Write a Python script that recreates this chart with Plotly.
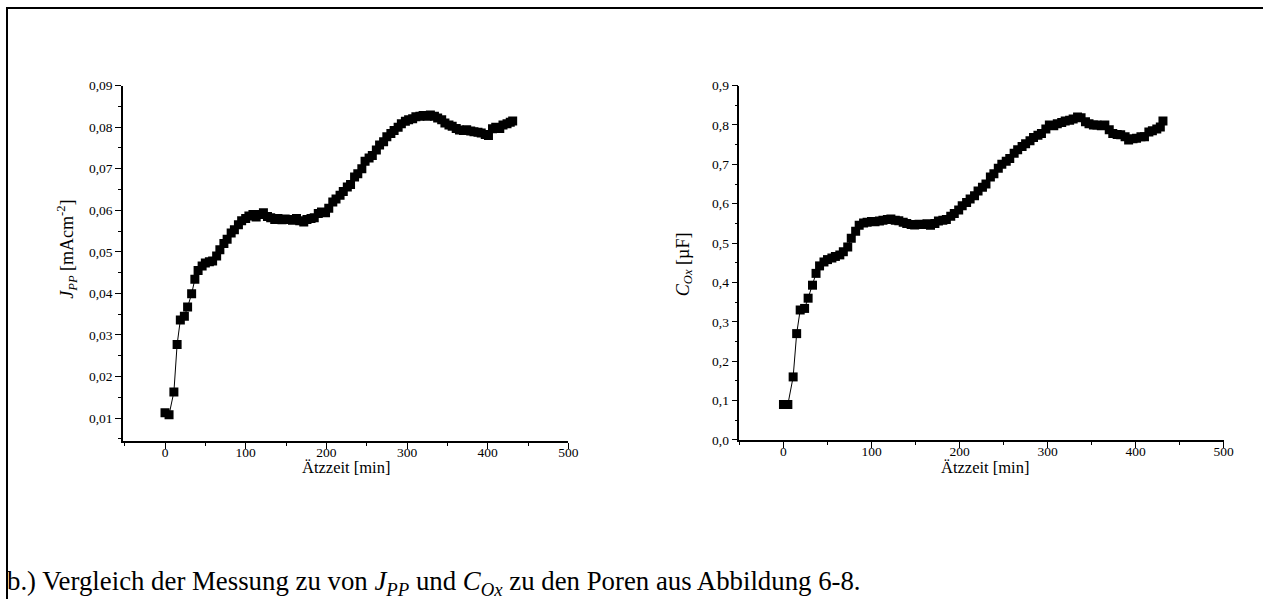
import plotly.graph_objects as go

# Etching time in minutes (shared by both measurements)
etch_time = [0, 5, 11, 15, 19, 24, 28, 33, 37, 41, 46, 50, 55, 59, 64, 68, 73, 77, 82, 86,
             91, 95, 100, 104, 109, 113, 118, 122, 127, 131, 136, 140, 145, 149, 154, 158,
             163, 167, 172, 176, 181, 185, 190, 194, 199, 203, 208, 212, 217, 221, 226, 230,
             235, 239, 244, 248, 253, 257, 262, 266, 271, 275, 280, 284, 289, 293, 298, 302,
             307, 311, 316, 320, 325, 329, 334, 338, 343, 347, 352, 356, 361, 365, 370, 374,
             379, 383, 388, 392, 397, 401, 406, 410, 415, 419, 424, 428, 431]

# Current density J_PP in mA/cm^2
j_pp = [0.0113, 0.0108, 0.0163, 0.0277, 0.0336, 0.0345, 0.0367, 0.0399, 0.0434, 0.0455,
        0.0466, 0.0473, 0.0476, 0.0478, 0.0490, 0.0505, 0.0520, 0.0530, 0.0545, 0.0553,
        0.0565, 0.0575, 0.0580, 0.0586, 0.0590, 0.0584, 0.0590, 0.0594, 0.0585, 0.0582,
        0.0578, 0.0580, 0.0577, 0.0579, 0.0578, 0.0576, 0.0580, 0.0575, 0.0572, 0.0578,
        0.0580, 0.0582, 0.0592, 0.0596, 0.0594, 0.0605, 0.0620, 0.0627, 0.0636, 0.0645,
        0.0656, 0.0662, 0.0680, 0.0688, 0.0700, 0.0718, 0.0726, 0.0732, 0.0745, 0.0757,
        0.0765, 0.0777, 0.0785, 0.0792, 0.0800, 0.0808, 0.0814, 0.0818, 0.0820, 0.0825,
        0.0826, 0.0828, 0.0826, 0.0829, 0.0826, 0.0822, 0.0818, 0.0810, 0.0805, 0.0802,
        0.0797, 0.0793, 0.0792, 0.0794, 0.0791, 0.0789, 0.0788, 0.0786, 0.0782, 0.0780,
        0.0796, 0.0800, 0.0797, 0.0805, 0.0808, 0.0812, 0.0815]

# Oxide capacitance C_Ox in µF
c_ox = [0.090, 0.090, 0.160, 0.270, 0.330, 0.334, 0.360, 0.393, 0.423, 0.442,
        0.452, 0.458, 0.462, 0.466, 0.470, 0.478, 0.490, 0.512, 0.530, 0.545,
        0.551, 0.553, 0.555, 0.554, 0.556, 0.558, 0.560, 0.561, 0.558, 0.557,
        0.553, 0.550, 0.547, 0.546, 0.548, 0.547, 0.549, 0.545, 0.550, 0.556,
        0.558, 0.560, 0.568, 0.575, 0.584, 0.595, 0.603, 0.612, 0.620, 0.632,
        0.642, 0.650, 0.668, 0.676, 0.690, 0.700, 0.708, 0.715, 0.728, 0.737,
        0.745, 0.752, 0.760, 0.768, 0.774, 0.778, 0.790, 0.800, 0.798, 0.803,
        0.806, 0.810, 0.812, 0.815, 0.820, 0.818, 0.808, 0.803, 0.800, 0.800,
        0.798, 0.800, 0.788, 0.778, 0.776, 0.775, 0.770, 0.762, 0.765, 0.766,
        0.770, 0.770, 0.782, 0.785, 0.790, 0.795, 0.810]

W, H = 1263, 599
FONT = "Liberation Serif, Times New Roman, serif"


# Page pixel -> paper coordinate helpers (the page shrinks the figure slightly)
def px_x(v):
    return (v / 0.9915) / W


def px_y(v):
    return 1 - ((v - 7.5) / 0.974) / H


series_style = dict(mode="lines+markers",
                    line=dict(color="black", width=1),
                    marker=dict(symbol="square", size=9, color="black"),
                    showlegend=False, hoverinfo="x+y")

fig = go.Figure()
fig.add_trace(go.Scatter(x=etch_time, y=j_pp, xaxis="x", yaxis="y", **series_style))
fig.add_trace(go.Scatter(x=etch_time, y=c_ox, xaxis="x2", yaxis="y2", **series_style))

axis_common = dict(showline=True, linecolor="black", linewidth=1.5, ticks="outside",
                   ticklen=6, tickwidth=1.2, tickcolor="black", showgrid=False,
                   zeroline=False, tickfont=dict(family=FONT, size=13.5, color="black"),
                   mirror=False)
minor_common = dict(ticks="outside", ticklen=3, tickwidth=1.2, tickcolor="black",
                    showgrid=False)

fig.update_layout(
    width=W, height=H,
    margin=dict(l=0, r=0, t=0, b=0),
    paper_bgcolor="white", plot_bgcolor="white",
    separators=",.",
    font=dict(family=FONT, color="black"),
    xaxis=dict(domain=[px_x(123), px_x(568)], range=[-52, 500], anchor="y",
               tick0=0, dtick=100, ticklabelstandoff=-8,
               minor=dict(dtick=50, **minor_common), **axis_common),
    yaxis=dict(domain=[px_y(441), px_y(86)], range=[0.0045, 0.09], anchor="x",
               tick0=0.01, dtick=0.01, tickformat=".2f",
               minor=dict(dtick=0.005, tick0=0.005, **minor_common), **axis_common),
    xaxis2=dict(domain=[px_x(739), px_x(1223)], range=[-50, 500], anchor="y2",
                tick0=0, dtick=100, ticklabelstandoff=-8,
                minor=dict(dtick=50, **minor_common), **axis_common),
    yaxis2=dict(domain=[px_y(440), px_y(86)], range=[0, 0.9], anchor="x2",
                tick0=0, dtick=0.1, tickformat=".1f",
                minor=dict(dtick=0.05, tick0=0, **minor_common), **axis_common),
)

xtitle_font = dict(family=FONT, size=16.5, color="black")
ytitle_font = dict(family=FONT, size=18, color="black")
annotations = [
    dict(text="Ätzzeit [min]", x=px_x(346), y=px_y(468), xref="paper", yref="paper",
         showarrow=False, font=xtitle_font, xanchor="center", yanchor="middle"),
    dict(text="Ätzzeit [min]", x=px_x(984), y=px_y(468), xref="paper", yref="paper",
         showarrow=False, font=xtitle_font, xanchor="center", yanchor="middle"),
    dict(text="<i>J</i><sub><i>PP</i></sub> [mAcm<sup>-2</sup>]", x=px_x(67), y=px_y(250),
         xref="paper", yref="paper", showarrow=False, font=ytitle_font, textangle=-90,
         xanchor="center", yanchor="middle"),
    dict(text="<i>C</i><sub><i>Ox</i></sub> [µF]", x=px_x(684), y=px_y(264),
         xref="paper", yref="paper", showarrow=False, font=ytitle_font, textangle=-90,
         xanchor="center", yanchor="middle"),
    dict(text="b.) Vergleich der Messung zu von <i>J</i><sub><i>PP</i></sub> und "
              "<i>C</i><sub><i>Ox</i></sub> zu den Poren aus Abbildung 6-8.",
         x=px_x(5), y=px_y(583), xref="paper", yref="paper", showarrow=False,
         font=dict(family=FONT, size=26.8, color="black"), xanchor="left", yanchor="middle"),
]
fig.update_layout(annotations=annotations)

# Outer frame around the figure panel
fig.add_shape(type="rect", xref="paper", yref="paper",
              x0=px_x(7), x1=1.02, y0=-0.05, y1=px_y(8.5),
              line=dict(color="black", width=2), fillcolor="rgba(0,0,0,0)", layer="above")

fig.write_html("out.html")
